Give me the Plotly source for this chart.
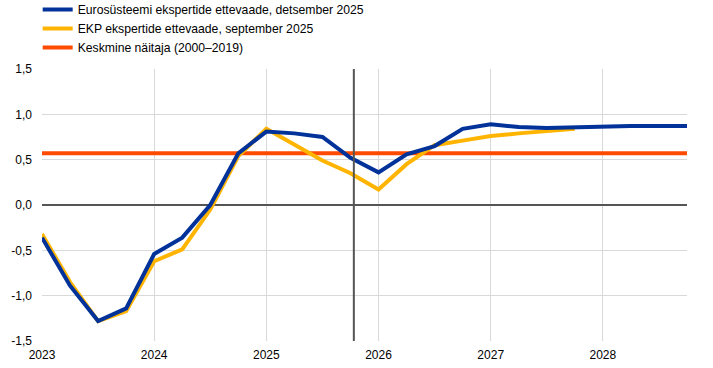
import plotly.graph_objects as go

quarters = [2023 + 0.25 * i for i in range(24)]
dec_2025 = [-0.36, -0.89, -1.28, -1.14, -0.54, -0.36, 0.00, 0.57,
            0.81, 0.79, 0.75, 0.52, 0.36, 0.56, 0.65, 0.84,
            0.89, 0.86, 0.85, 0.86, 0.86, 0.87, 0.87, 0.87]
sep_2025 = [-0.32, -0.85, -1.28, -1.17, -0.62, -0.49, -0.05, 0.54,
            0.84, 0.67, 0.49, 0.35, 0.17, 0.45, 0.66, 0.71,
            0.76, 0.79, 0.81, 0.84]
avg_value = 0.57
cutoff = 2025.78
names = ["Eurosüsteemi ekspertide ettevaade, detsember 2025",
         "EKP ekspertide ettevaade, september 2025",
         "Keskmine näitaja (2000–2019)"]
year_ticks = [2023, 2024, 2025, 2026, 2027, 2028]
y_ticks = [-1.5, -1.0, -0.5, 0.0, 0.5, 1.0, 1.5]
y_labels = ["-1,5", "-1,0", "-0,5", "0,0", "0,5", "1,0", "1,5"]

BLUE = "#003299"
YELLOW = "#FFB400"
ORANGE = "#FF4B00"

fig = go.Figure()
fig.add_trace(go.Scatter(x=quarters, y=[avg_value] * len(quarters), mode="lines",
                         line=dict(color=ORANGE, width=4), name=names[2],
                         legendrank=3))
fig.add_trace(go.Scatter(x=quarters[:len(sep_2025)], y=sep_2025, mode="lines",
                         line=dict(color=YELLOW, width=4), name=names[1], legendrank=2))
fig.add_trace(go.Scatter(x=quarters, y=dec_2025, mode="lines",
                         line=dict(color=BLUE, width=4), name=names[0], legendrank=1))

fig.add_shape(type="line", x0=cutoff, x1=cutoff, y0=-1.5, y1=1.5, xref="x", yref="y",
              line=dict(color="#555555", width=2))

fig.update_layout(
    width=713, height=368,
    margin=dict(l=42, r=26, t=69, b=27, autoexpand=False),
    paper_bgcolor="white", plot_bgcolor="white",
    font=dict(family="Liberation Sans, Arial, sans-serif", size=12, color="#000000"),
    showlegend=True,
    legend=dict(x=-0.0067, y=1.272, xref="paper", yref="paper",
                xanchor="left", yanchor="top",
                bgcolor="rgba(0,0,0,0)", itemwidth=30, tracegroupgap=0,
                font=dict(size=12.2)),
)
fig.update_xaxes(range=[2023, 2028.75], tickvals=year_ticks, ticktext=[str(y) for y in year_ticks],
                 showgrid=True, gridcolor="#d9d9d9", gridwidth=1, zeroline=False,
                 showline=False, ticks="", tickfont=dict(size=12), ticklabelstandoff=5)
fig.update_yaxes(range=[-1.5, 1.5], tickvals=y_ticks, ticktext=y_labels,
                 showgrid=True, gridcolor="#d9d9d9", gridwidth=1,
                 zeroline=True, zerolinecolor="#555555", zerolinewidth=2,
                 showline=False, ticks="", tickfont=dict(size=12), ticklabelstandoff=9)

fig.write_html("out.html", config={"displayModeBar": False},
               post_script="document.body.style.margin='0';document.body.style.overflow='hidden';")
